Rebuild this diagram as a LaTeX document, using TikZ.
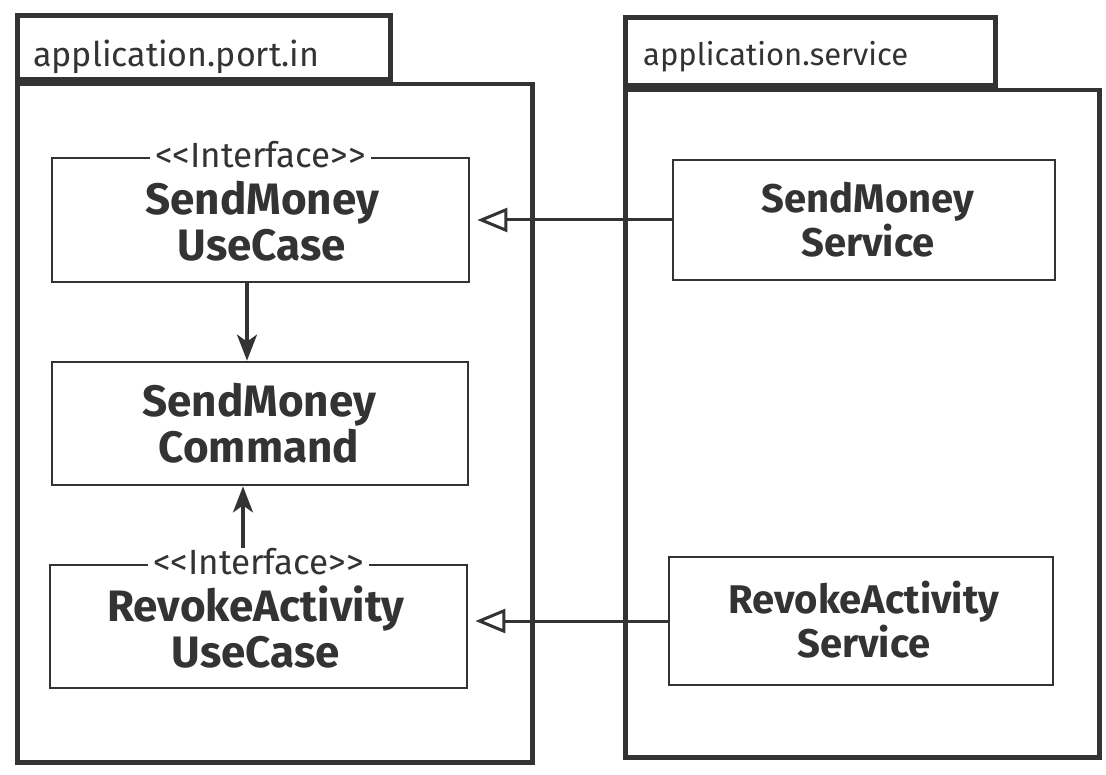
\documentclass[tikz,border=0pt]{standalone}
\usepackage{fontspec}
\setmainfont{Fira Sans}
\usetikzlibrary{arrows.meta,calc}
\definecolor{ink}{HTML}{333333}
\tikzset{
  pkgbody/.style={draw=ink, line width=4.5pt, inner sep=0pt, anchor=north west},
  pkgtab/.style={draw=ink, line width=4.5pt, inner sep=0pt, anchor=south west},
  pkglbl/.style={anchor=west, text=ink, inner sep=0pt},
  cls/.style={draw=ink, line width=2.8pt, inner sep=0pt},
  clstext/.style={text=ink, font=\fontsize{44}{46}\selectfont\bfseries, align=center},
  clstextr/.style={text=ink, font=\fontsize{40}{44}\selectfont\bfseries, align=center},
  stereo/.style={fill=white, text=ink, font=\fontsize{35}{36}\selectfont, inner xsep=5pt, inner ysep=0pt},
  realize/.style={draw=ink, line width=3pt, -{Triangle[open, length=30pt, width=24pt, line width=3pt]}, shorten >=7pt},
  depend/.style={draw=ink, line width=3.2pt, -{Stealth[length=26pt, width=20pt, inset=7pt]}}
}
\begin{document}
\begin{tikzpicture}[x=1pt,y=-1pt]
\path[use as bounding box, fill=white] (0,0) rectangle (1106,775);
% packages
\node[pkgbody, minimum width=515pt, minimum height=678pt] (pin) at (15,82) {};
\node[pkgtab, minimum width=373pt, minimum height=64pt] (pintab) at (15,82) {};
\node[pkglbl, font=\fontsize{34}{38}\selectfont] (pinlbl) at (33,57) {application.port.in};
\node[pkgbody, minimum width=474pt, minimum height=667pt] (psv) at (623,88) {};
\node[pkgtab, minimum width=370pt, minimum height=68pt] (psvtab) at (623,88) {};
\node[pkglbl, font=\fontsize{31}{36}\selectfont] (psvlbl) at (643,57) {application.service};
% classes
\node[cls, minimum width=417pt, minimum height=124pt] (smuc) at (260.5,220) {};
\node[clstext] (smuct) at (262,221) {SendMoney\\UseCase};
\node[stereo] (smucs) at ([yshift=2pt]smuc.north) {<{}<Interface>{}>};
\node[cls, minimum width=416pt, minimum height=123pt] (smc) at (260,423.5) {};
\node[clstext] (smct) at (259,423) {SendMoney\\Command};
\node[cls, minimum width=417pt, minimum height=123pt] (rauc) at (258.5,626.5) {};
\node[clstext] (rauct) at (256,627) {RevokeActivity\\UseCase};
\node[stereo] (raucs) at ([yshift=2pt]rauc.north) {<{}<Interface>{}>};
\node[cls, minimum width=382pt, minimum height=120pt] (sms) at (864,220) {};
\node[clstextr] (smst) at (868,220) {SendMoney\\Service};
\node[cls, minimum width=384pt, minimum height=128pt] (ras) at (861,621) {};
\node[clstextr] (rast) at (864,620) {RevokeActivity\\Service};
% connectors
\coordinate (axd) at (247,0);
\coordinate (axu) at (243,0);
\draw[realize] (sms.west) -- (sms.west -| smuc.east);
\draw[realize] (ras.west) -- (ras.west -| rauc.east);
\draw[depend] (smuc.south -| axd) -- (smc.north -| axd);
\draw[depend] (raucs.north -| axu) -- (smc.south -| axu);
\end{tikzpicture}
\end{document}
